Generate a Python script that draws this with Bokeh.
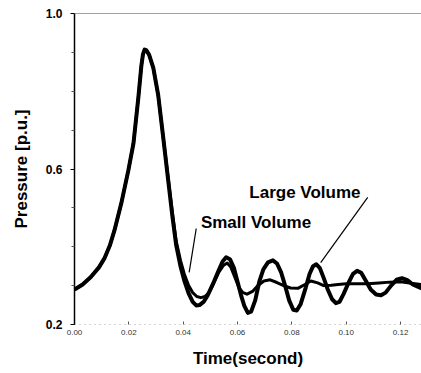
from bokeh.plotting import figure
from bokeh.models import FixedTicker, Label, Span, Range1d
from bokeh.embed import file_html
from bokeh.resources import INLINE

# Large volume series (time s, pressure p.u.)
large_t = [0.000, 0.003, 0.006, 0.009, 0.011, 0.013, 0.0147, 0.0172, 0.0198, 0.0217,
           0.0235, 0.0246, 0.0252, 0.0258, 0.0265, 0.0275, 0.0290, 0.0308, 0.0325, 0.0345,
           0.0360, 0.0374, 0.0390, 0.0404, 0.0420, 0.0435, 0.0448, 0.0460, 0.0475, 0.0490,
           0.0510, 0.0528, 0.0545, 0.0558, 0.0572, 0.0587, 0.0600, 0.0613, 0.0625, 0.0638,
           0.0650, 0.0665, 0.0680, 0.0695, 0.0712, 0.0730, 0.0745, 0.0760, 0.0775, 0.0790,
           0.0805, 0.0818, 0.0832, 0.0851, 0.0865, 0.0878, 0.0890, 0.0903, 0.0918, 0.0932,
           0.0948, 0.0962, 0.0975, 0.0990, 0.1009, 0.1025, 0.1040, 0.1055, 0.1070, 0.1090,
           0.1110, 0.1128, 0.1145, 0.1165, 0.1185, 0.1205, 0.1225, 0.1245, 0.1265, 0.1277]
large_p = [0.290, 0.303, 0.322, 0.347, 0.370, 0.403, 0.442, 0.511, 0.596, 0.666,
           0.784, 0.865, 0.895, 0.907, 0.905, 0.893, 0.860, 0.790, 0.690, 0.570,
           0.480, 0.405, 0.350, 0.313, 0.280, 0.258, 0.249, 0.250, 0.258, 0.275,
           0.305, 0.335, 0.362, 0.373, 0.368, 0.345, 0.310, 0.275, 0.248, 0.230,
           0.233, 0.262, 0.310, 0.342, 0.360, 0.365, 0.357, 0.335, 0.300, 0.262,
           0.238, 0.236, 0.252, 0.295, 0.330, 0.350, 0.355, 0.345, 0.318, 0.290,
           0.265, 0.255, 0.258, 0.278, 0.308, 0.330, 0.338, 0.333, 0.315, 0.290,
           0.277, 0.275, 0.282, 0.300, 0.315, 0.319, 0.314, 0.303, 0.297, 0.293]

# Small volume series
small_t = [0.000, 0.003, 0.006, 0.009, 0.011, 0.013, 0.0147, 0.0172, 0.0198, 0.0217,
           0.0235, 0.0246, 0.0252, 0.0258, 0.0265, 0.0275, 0.0290, 0.0308, 0.0325, 0.0345,
           0.0360, 0.0374, 0.0390, 0.0404, 0.0420, 0.0435, 0.0450, 0.0465, 0.0480, 0.0495,
           0.0510, 0.0530, 0.0548, 0.0562, 0.0575, 0.0590, 0.0605, 0.0620, 0.0635, 0.0655,
           0.0675, 0.0697, 0.0720, 0.0745, 0.0770, 0.0795, 0.0822, 0.0848, 0.0870, 0.0895,
           0.0917, 0.0945, 0.0970, 0.1000, 0.1040, 0.1080, 0.1120, 0.1160, 0.1200, 0.1240,
           0.1277]
small_p = [0.290, 0.303, 0.322, 0.347, 0.370, 0.403, 0.442, 0.511, 0.596, 0.666,
           0.784, 0.865, 0.895, 0.907, 0.905, 0.893, 0.860, 0.790, 0.690, 0.575,
           0.488, 0.415, 0.365, 0.330, 0.300, 0.282, 0.272, 0.269, 0.272, 0.282,
           0.303, 0.333, 0.352, 0.358, 0.348, 0.322, 0.295, 0.282, 0.278, 0.285,
           0.300, 0.312, 0.315, 0.308, 0.300, 0.294, 0.293, 0.303, 0.312, 0.307,
           0.300, 0.301, 0.303, 0.305, 0.305, 0.305, 0.307, 0.309, 0.310, 0.306,
           0.303]

x_ticks = [0.00, 0.02, 0.04, 0.06, 0.08, 0.10, 0.12]
y_ticks = [0.2, 0.6, 1.0]
y_minor = [0.3, 0.4, 0.5, 0.7, 0.8, 0.9]

# annotations: (text, text x, text y, leader x0, y0, x1, y1)
large_label = ("Large Volume", 0.0848, 0.540, 0.1079, 0.527, 0.0906, 0.359)
small_label = ("Small Volume", 0.0668, 0.462, 0.0448, 0.447, 0.0422, 0.334)

FONT = "Liberation Sans"

p = figure(width=421, height=370, output_backend="svg", toolbar_location=None,
           x_range=Range1d(0.0, 0.1277), y_range=Range1d(0.2, 1.0),
           min_border_left=74, min_border_right=0, min_border_top=13, min_border_bottom=46)
p.outline_line_color = None
p.grid.visible = False
p.background_fill_color = "white"
p.border_fill_color = "white"

p.line(large_t, large_p, line_color="black", line_width=4, line_join="round")
p.line(small_t, small_p, line_color="black", line_width=3, line_join="round")

# top border line
p.add_layout(Span(location=1.0, dimension="width", line_color="#444444", line_width=1))

for lab in (large_label, small_label):
    txt, tx, ty, x0, y0, x1, y1 = lab
    p.add_layout(Label(x=tx, y=ty, text=txt, text_align="center", text_baseline="middle",
                       text_font=FONT, text_font_style="bold", text_font_size="17px",
                       text_color="black"))
    p.segment(x0=[x0], y0=[y0], x1=[x1], y1=[y1], line_color="black", line_width=1.2)

ya = p.yaxis[0]
ya.ticker = FixedTicker(ticks=y_ticks, minor_ticks=y_minor)
ya.major_label_overrides = {t: f"{t:.1f}" for t in y_ticks}
ya.axis_label = "Pressure [p.u.]"
ya.axis_label_text_font = FONT
ya.axis_label_text_font_style = "bold"
ya.axis_label_text_font_size = "17px"
ya.axis_label_text_color = "black"
ya.axis_label_standoff = 12
ya.major_label_text_font = FONT
ya.major_label_text_font_style = "bold"
ya.major_label_text_font_size = "12px"
ya.major_label_text_color = "black"
ya.major_label_standoff = 8
ya.axis_line_color = "black"
ya.axis_line_width = 1.5
ya.major_tick_out = 4
ya.major_tick_in = 0
ya.minor_tick_out = 3
ya.minor_tick_in = 0
ya.major_tick_line_color = "black"
ya.minor_tick_line_color = "#555555"

xa = p.xaxis[0]
xa.ticker = FixedTicker(ticks=x_ticks, minor_ticks=[])
xa.major_label_overrides = {t: f"{t:.2f}" for t in x_ticks}
xa.axis_label = "Time(second)"
xa.axis_label_text_font = FONT
xa.axis_label_text_font_style = "bold"
xa.axis_label_text_font_size = "17px"
xa.axis_label_text_color = "black"
xa.axis_label_standoff = 11
xa.major_label_text_font = FONT
xa.major_label_text_font_size = "8px"
xa.major_label_text_color = "#333333"
xa.major_label_standoff = 5
xa.axis_line_color = "#aaaaaa"
xa.axis_line_dash = "1 4"
xa.major_tick_out = 0
xa.major_tick_in = 3
xa.major_tick_line_color = "#555555"

open("out.html", "w").write(file_html(p, INLINE))
